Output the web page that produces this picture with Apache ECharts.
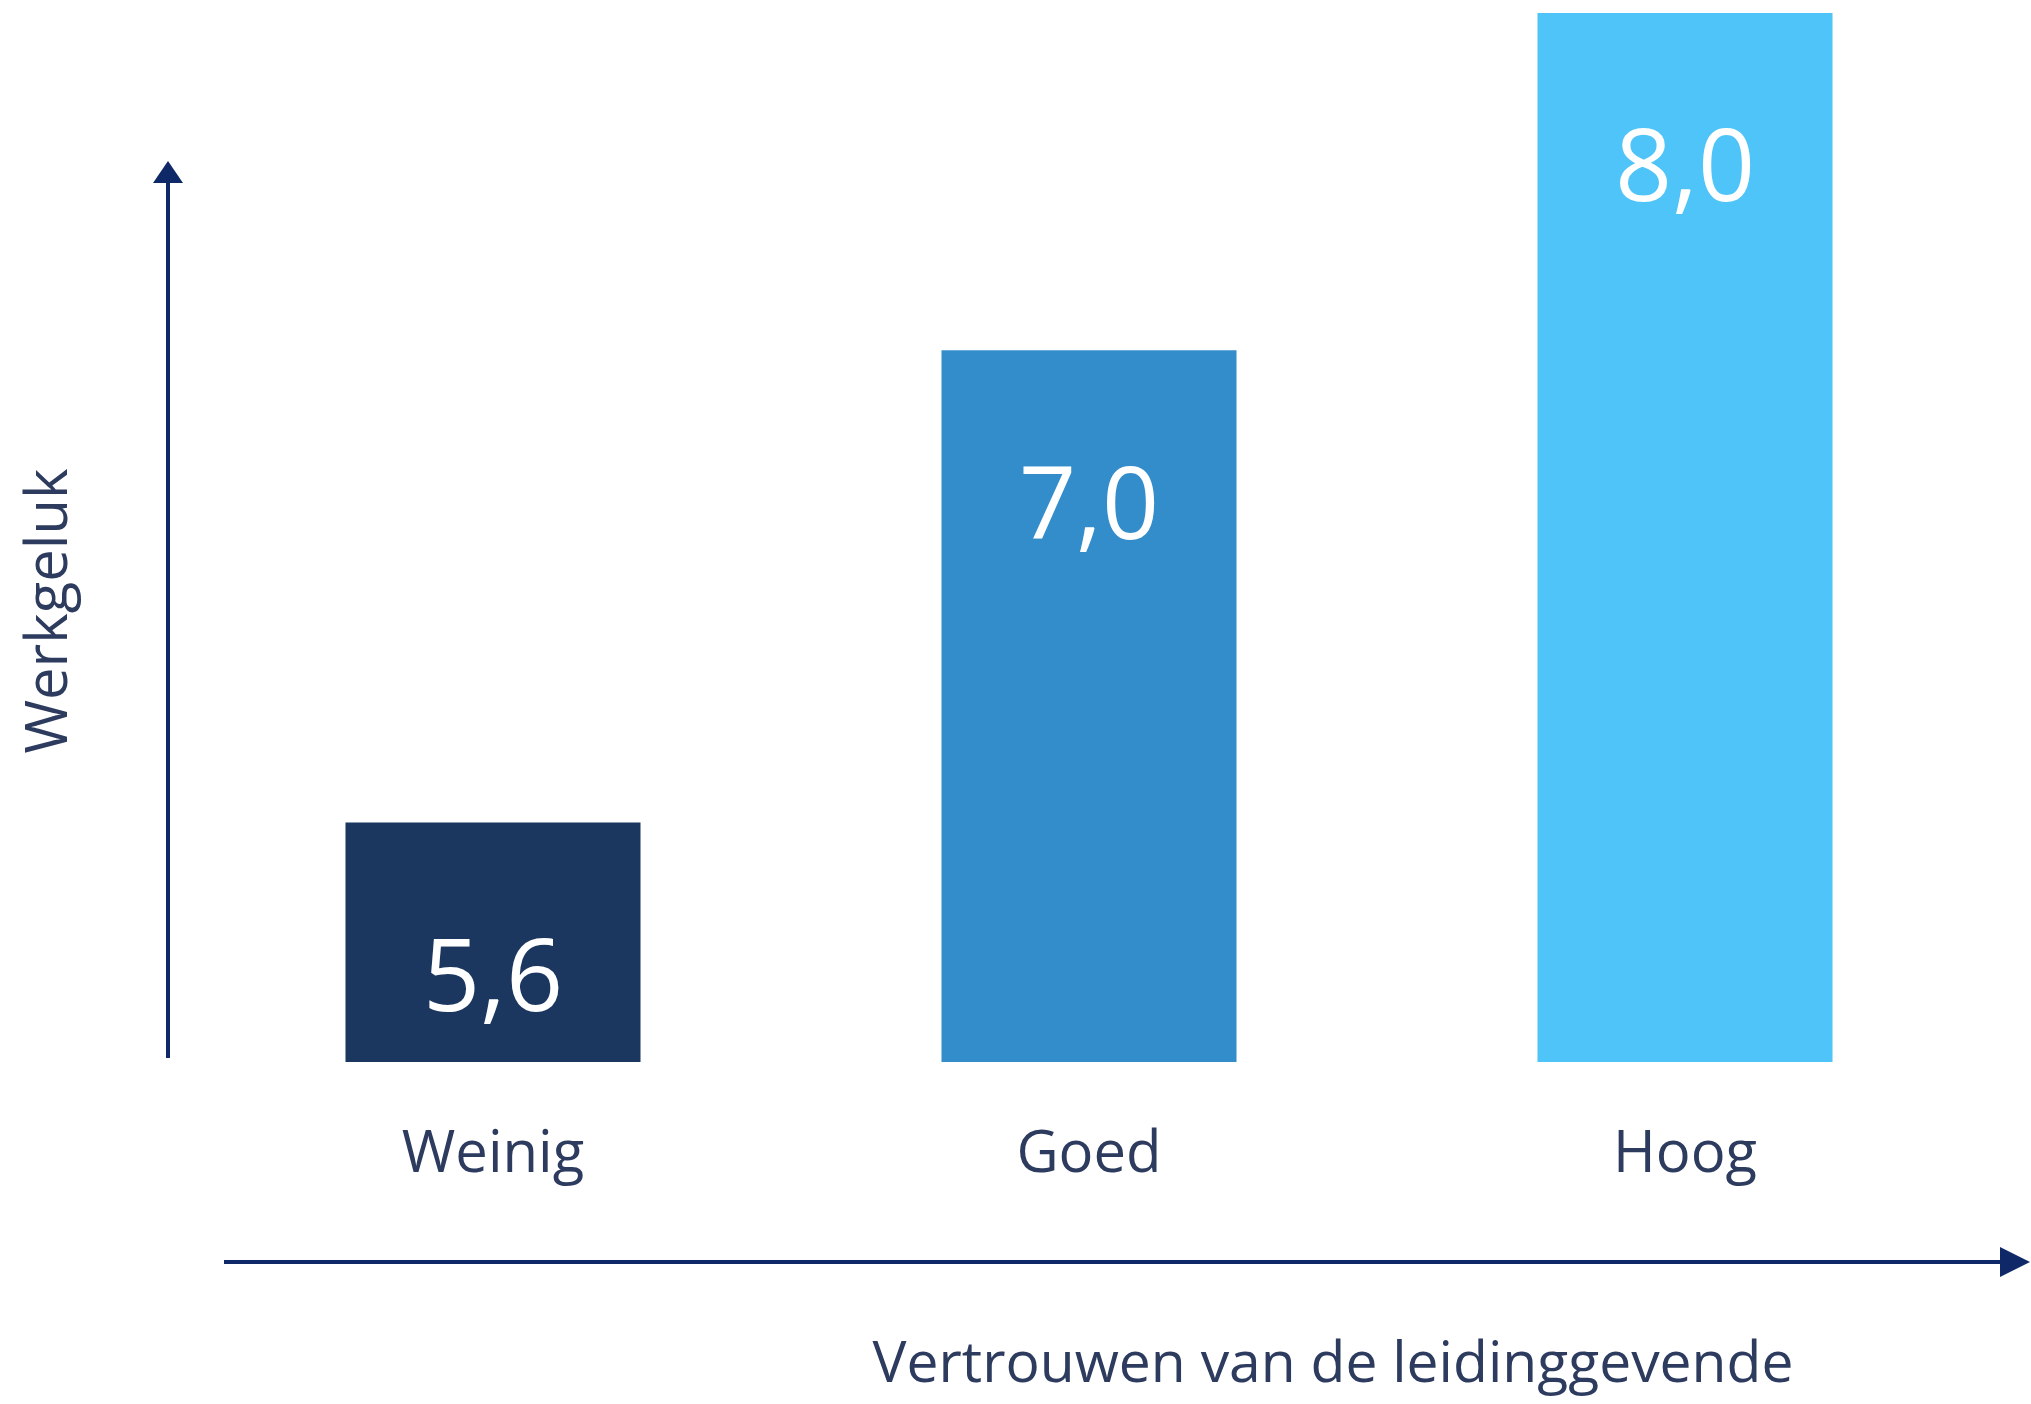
<!DOCTYPE html>
<html lang="nl">
<head>
    <meta charset="UTF-8">
    <title>Werkgeluk</title>
    <style>
        *{
            margin: 0;
            padding: 0;
        }
        html, body{
            height: 100%;
            width: 100%;
            background: #fff;
        }
        #chart{
            width: 2031px;
            height: 1404px;
        }
    </style>
</head>
<body>
<div id="chart"></div>
<script src="https://cdn.jsdelivr.net/npm/echarts@6/dist/echarts.min.js"></script>
<script>
    // data
    var categories = ['Weinig', 'Goed', 'Hoog'];
    var values = [5.6, 7.0, 8.0];
    var xTitle = 'Vertrouwen van de leidinggevende';
    var yTitle = 'Werkgeluk';

    var barColors = ['#1b365f', '#348dcb', '#4fc4f8'];
    var navy = '#0f2868';
    var textColor = '#2d3b5e';
    var font = '"Open Sans", "Noto Sans", sans-serif';

    var chart = echarts.init(document.getElementById('chart'));

    var option = {
        animation: false,
        grid: {
            left: 195,
            right: 48,
            top: 13,
            bottom: 342
        },
        xAxis: {
            type: 'category',
            data: categories,
            axisLine: {show: false},
            axisTick: {show: false},
            axisLabel: {
                margin: 64,
                fontSize: 58,
                fontFamily: font,
                color: textColor
            }
        },
        yAxis: {
            type: 'value',
            min: 4.89,
            max: 8,
            show: false
        },
        series: [{
            type: 'bar',
            barWidth: '49.5%',
            data: values.map(function (v, i) {
                return {value: v, itemStyle: {color: barColors[i]}};
            }),
            label: {
                show: true,
                position: 'insideTop',
                distance: 110,
                fontSize: 100,
                fontFamily: font,
                color: '#fff',
                formatter: function (p) {
                    return p.value.toFixed(1).replace('.', ',');
                }
            }
        }],
        graphic: [
            // vertical arrow
            {type: 'line', shape: {x1: 168, y1: 1058, x2: 168, y2: 178}, style: {stroke: navy, lineWidth: 4}},
            {type: 'polygon', shape: {points: [[168, 161], [153, 183], [183, 183]]}, style: {fill: navy}},
            // horizontal arrow
            {type: 'line', shape: {x1: 224, y1: 1262, x2: 2005, y2: 1262}, style: {stroke: navy, lineWidth: 4}},
            {type: 'polygon', shape: {points: [[2030, 1262], [2000, 1247], [2000, 1277]]}, style: {fill: navy}},
            {
                type: 'text', x: 1333, y: 1366,
                style: {
                    text: xTitle, fontSize: 57, fontFamily: font, fill: textColor,
                    align: 'center', verticalAlign: 'middle'
                }
            },
            {
                type: 'text', x: 50, y: 611, rotation: Math.PI / 2,
                style: {
                    text: yTitle, fontSize: 58, fontFamily: font, fill: textColor,
                    align: 'center', verticalAlign: 'middle'
                }
            }
        ]
    };

    chart.setOption(option);
    window.onresize = function () {
        chart.resize();
    };
</script>
</body>
</html>
